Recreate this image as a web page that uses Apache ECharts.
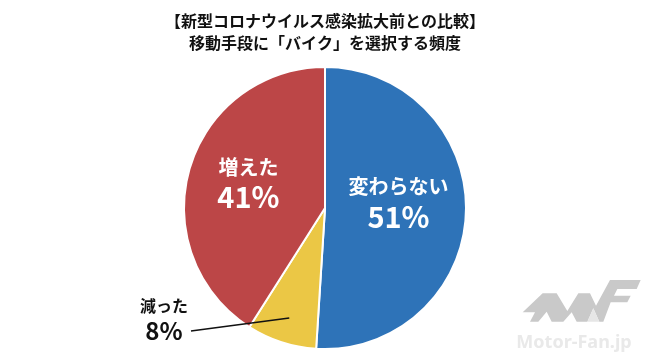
<!DOCTYPE html>
<html>
<head>
<meta charset="utf-8">
<script src="https://cdn.jsdelivr.net/npm/echarts@6/dist/echarts.min.js"></script>
<style>
html,body{margin:0;padding:0;background:#fff;}
#main{width:650px;height:361px;}
</style>
</head>
<body>
<div id="main"></div>
<script>
const titleLines = ['【新型コロナウイルス感染拡大前との比較】', '移動手段に「バイク」を選択する頻度'];
const categories = ['変わらない', '減った', '増えた'];
const values = [51, 8, 41];
const colors = ['#2E73B8', '#EBC745', '#BC4647'];

const FONT = '"Noto Sans CJK JP", "Noto Sans", sans-serif';
const cx = 325, cy = 208, R = 141;

// inner point of the leader line for the small slice (computed from data)
const total = values.reduce((a, b) => a + b, 0);
const cumBefore = values[0];
const midFrac = (cumBefore + values[1] / 2) / total;
const ang = midFrac * 2 * Math.PI; // clockwise from top
const innerR = R * 0.82;
const lx = cx + Math.sin(ang) * innerR;
const ly = cy - Math.cos(ang) * innerR;

const chart = echarts.init(document.getElementById('main'));

function lp(px, py) { return [510 + px / 3, 275 + py / 3]; }

const option = {
  animation: false,
  backgroundColor: '#fff',
  title: {
    text: titleLines.join('\n'),
    left: 'center',
    top: 5,
    textStyle: { fontFamily: FONT, fontSize: 16, fontWeight: 'bold', color: '#111', lineHeight: 22 }
  },
  series: [{
    type: 'pie',
    center: [cx, cy],
    radius: [0, R],
    startAngle: 90,
    clockwise: true,
    avoidLabelOverlap: false,
    itemStyle: { borderColor: '#fff', borderWidth: 2 },
    label: {
      show: true,
      position: 'inside',
      formatter: p => '{a|' + p.name + '}\n{b|' + p.value + '%}',
      color: '#fff',
      fontFamily: FONT,
      fontWeight: 'bold',
      rich: {
        a: { fontFamily: FONT, fontWeight: 'bold', fontSize: 20, color: '#fff', lineHeight: 29 },
        b: { fontFamily: FONT, fontWeight: 'bold', fontSize: 29, color: '#fff', lineHeight: 31 }
      }
    },
    labelLine: { show: false },
    labelLayout: function (params) {
      if (params.dataIndex === 0) return { dy: -8 };
      if (params.dataIndex === 2) return { dx: -6, dy: -5 };
      return { x: 164, y: 319, align: 'center', verticalAlign: 'middle' };
    },
    data: categories.map((c, i) => {
      const d = { name: c, value: values[i], itemStyle: { color: colors[i] } };
      if (i === 1) {
        d.label = {
          position: 'inside',
          rich: {
            a: { fontFamily: FONT, fontWeight: 'bold', fontSize: 16, color: '#111', lineHeight: 24 },
            b: { fontFamily: FONT, fontWeight: 'bold', fontSize: 24, color: '#111', lineHeight: 26 }
          }
        };
      }
      return d;
    })
  }],
  graphic: [
    {
      type: 'line', z: 100,
      shape: { x1: 191, y1: 331, x2: lx, y2: ly },
      style: { stroke: '#111', lineWidth: 1.5 }
    },
    {
      type: 'polygon', z: 5, silent: true,
      shape: { points: [lp(38,112), lp(98,55), lp(140,55), lp(172,108), lp(205,55), lp(240,55), lp(258,92), lp(300,15), lp(392,15), lp(380,42), lp(322,42), lp(312,62), lp(362,62), lp(352,82), lp(302,82), lp(280,140), lp(268,140), lp(250,100), lp(232,140), lp(200,140), lp(185,112), lp(160,140), lp(125,140), lp(110,110), lp(85,140), lp(60,140), lp(75,112)] },
      style: { fill: '#C9C9C9' }
    },
    {
      type: 'polygon', z: 5, silent: true,
      shape: { points: [lp(232,140), lp(250,100), lp(268,140)] },
      style: { fill: '#E6E6E6' }
    },
    {
      type: 'text', z: 5, silent: true,
      x: 574, y: 343,
      style: { text: 'Motor-Fan.jp', fontFamily: '"Noto Sans", sans-serif', fontWeight: 'bold', fontSize: 18, fill: '#E9E9E9', align: 'center', verticalAlign: 'middle' }
    }
  ]
};
chart.setOption(option);
</script>
</body>
</html>
